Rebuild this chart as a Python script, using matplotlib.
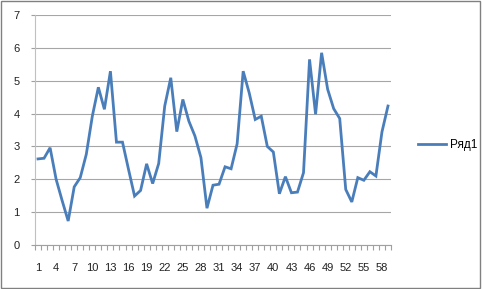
import matplotlib
matplotlib.use('Agg')
import matplotlib.pyplot as plt
from matplotlib.patches import Rectangle
from matplotlib.ticker import FixedLocator, NullFormatter

plt.rcParams['font.family'] = ['Liberation Sans', 'DejaVu Sans']

# значения ряда
values = [2.62, 2.64, 2.96, 2.00, 1.35, 0.73, 1.77, 2.05, 2.76, 3.92,
          4.80, 4.13, 5.29, 3.13, 3.13, 2.30, 1.49, 1.66, 2.47, 1.87,
          2.48, 4.23, 5.09, 3.45, 4.43, 3.77, 3.32, 2.66, 1.12, 1.82,
          1.85, 2.38, 2.32, 3.08, 5.29, 4.63, 3.82, 3.92, 3.00, 2.83,
          1.56, 2.08, 1.59, 1.61, 2.20, 5.65, 3.98, 5.85, 4.74, 4.15,
          3.85, 1.69, 1.31, 2.05, 1.97, 2.23, 2.10, 3.44, 4.23]
categories = list(range(1, len(values) + 1))
x_labels = categories[::3]
y_ticks = [0, 1, 2, 3, 4, 5, 6, 7]
series_name = 'Ряд1'

fig = plt.figure(figsize=(4.82, 2.89), dpi=100)
ax = fig.add_axes([35 / 482, 1 - 245 / 289, 356 / 482, 230 / 289])

ax.plot(categories, values, color='#4a7ebb', lw=2.0, label=series_name,
        solid_joinstyle='miter')

ax.set_xlim(0.5, len(values) + 0.5)
ax.set_ylim(0, 7)
ax.set_yticks(y_ticks)
ax.grid(axis='y', color='#a6a6a6', lw=0.8)
ax.set_axisbelow(True)

ax.set_xticks(x_labels)
ax.set_xticklabels([str(v) for v in x_labels])
ax.xaxis.set_minor_locator(FixedLocator([c - 0.5 for c in categories] + [len(values) + 0.5]))
ax.xaxis.set_minor_formatter(NullFormatter())
ax.tick_params(axis='x', which='major', length=0, pad=13, labelsize=8, colors='#222222')
ax.tick_params(axis='x', which='minor', length=3.5, color='#a0a0a0', width=0.8)
ax.tick_params(axis='y', length=3, color='#a0a0a0', width=0.8, pad=8, labelsize=8,
               colors='#222222')
ax.tick_params(axis='y', color='#a0a0a0')

for side in ['top', 'right']:
    ax.spines[side].set_visible(False)
ax.spines['left'].set_color('#c0c0c0')
ax.spines['bottom'].set_color('#a0a0a0')
ax.spines['left'].set_linewidth(0.8)
ax.spines['bottom'].set_linewidth(0.8)

ax.legend(loc='center left', bbox_to_anchor=(412 / 482, 1 - 145 / 289),
          bbox_transform=fig.transFigure, frameon=False, borderpad=0,
          handlelength=2.4, handletextpad=0.3, fontsize=8.5)

# рамка вокруг диаграммы
fig.patches.append(Rectangle((0.002, 0.004), 0.994, 0.992, transform=fig.transFigure,
                             fill=False, edgecolor='#808080', lw=1.0))

plt.savefig('out.png', dpi=100)
